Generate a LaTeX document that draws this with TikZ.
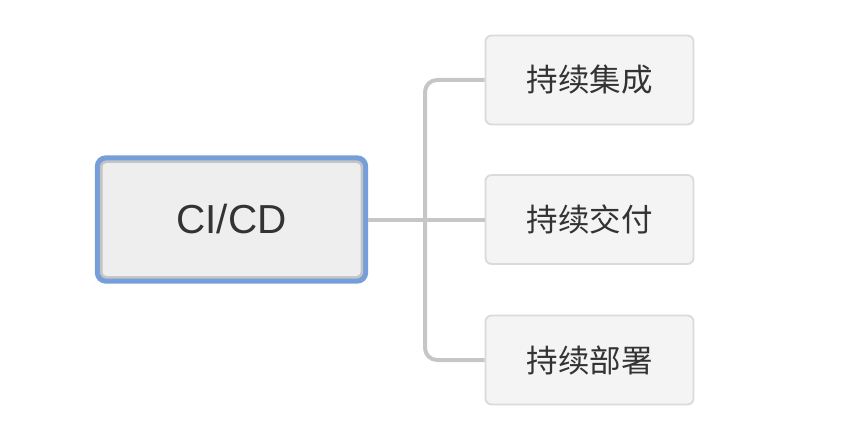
\documentclass[tikz,border=0pt]{standalone}
\usepackage{fontspec}
\usetikzlibrary{backgrounds}
\setmainfont{Liberation Sans}
\newfontfamily\cjk{Noto Sans CJK SC}
\definecolor{rootblue}{HTML}{769FDA}
\definecolor{rootgray}{HTML}{C4C4C4}
\definecolor{rootfill}{HTML}{EEEEEE}
\definecolor{childfill}{HTML}{F4F4F4}
\definecolor{childline}{HTML}{DADADA}
\definecolor{connline}{HTML}{C6C6C6}
\definecolor{txt}{HTML}{333333}
\tikzset{
  rootbox/.style={fill=rootfill, rounded corners=4pt,
    minimum width=258pt, minimum height=113pt, inner sep=0pt,
    font=\fontsize{40.5}{46}\selectfont, text=txt},
  childbox/.style={draw=childline, line width=1.8pt, fill=childfill, rounded corners=6pt,
    minimum width=208pt, minimum height=89pt, inner sep=0pt,
    font=\cjk\fontsize{31.5}{36}\selectfont, text=txt},
  conn/.style={draw=connline, line width=4pt},
}
\begin{document}
\begin{tikzpicture}[x=1pt,y=-1pt]
\useasboundingbox (0,0) rectangle (854,428);
\node[rootbox] (root) at (231.5,219.5) {CI/CD};
\begin{scope}[on background layer]
\fill[rootblue, rounded corners=11pt]
  ([shift={(-7.5,-7.5)}]root.north west) rectangle ([shift={(7.5,7.5)}]root.south east);
\fill[rootgray, rounded corners=7pt]
  ([shift={(-2.5,-2.5)}]root.north west) rectangle ([shift={(2.5,2.5)}]root.south east);
\end{scope}
\node[childbox] (c1) at (589.5,80) {持续集成};
\node[childbox] (c2) at (589.5,219.5) {持续交付};
\node[childbox] (c3) at (589.5,360) {持续部署};
\coordinate (branch) at (425,219.5);
\draw[conn] (root.east) ++(7.5,0) -- (c2.west);
\draw[conn, rounded corners=12pt] (c1.west) -| (branch) |- (c3.west);
\end{tikzpicture}
\end{document}
